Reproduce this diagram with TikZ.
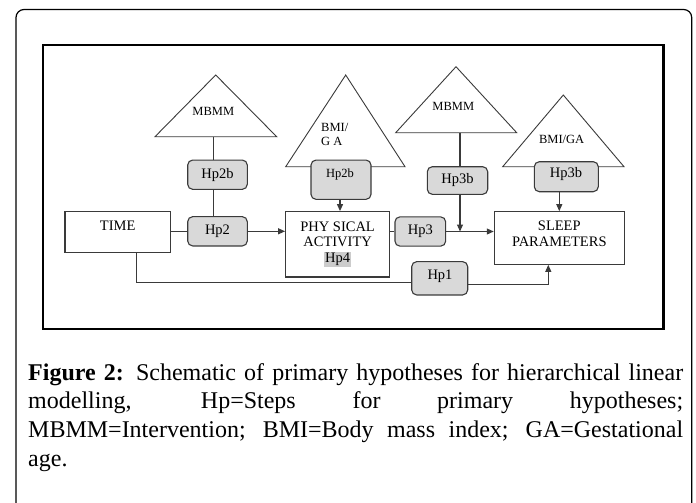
\documentclass[tikz,border=0pt]{standalone}
\usepackage{fontspec}
\setmainfont{Liberation Serif}
\usetikzlibrary{arrows.meta,calc}
\definecolor{boxgray}{HTML}{D9D9D9}
\definecolor{edge}{HTML}{3A3A3A}
\tikzset{
  hbox/.style={draw=edge, fill=boxgray, rounded corners=5pt, line width=1.1pt, inner sep=0pt, font=\fontsize{14.5}{16}\selectfont},
  wbox/.style={draw=edge, fill=white, line width=1.1pt, inner sep=0pt},
  tri/.style={draw=edge, line width=0.9pt, fill=white},
  lbl/.style={inner sep=0pt, font=\fontsize{14.5}{16}\selectfont},
  tlbl/.style={inner sep=0pt, font=\fontsize{12.5}{15}\selectfont},
  conn/.style={draw=edge, line width=1.1pt},
  arr/.style={conn, -{Triangle[length=7pt,width=6pt]}},
  capline/.style={inner sep=0pt, anchor=base west, font=\fontsize{24}{28}\selectfont}
}
\begin{document}
\begin{tikzpicture}[x=1pt,y=-1pt]
\useasboundingbox (0,0) rectangle (696,503);
% frames
\draw[line width=1.2pt, rounded corners=8pt] (16,520) -- (16,9.5) -- (691.7,9.5) -- (691.7,520);
\draw[line width=2.6pt] (43,45) rectangle (663.5,329);

% triangles
\draw[tri] (215.7,75) -- (276.7,136.7) -- (155,136.7) -- cycle;
\draw[tri] (345.7,75) -- (405,166.7) -- (285.7,166.7) -- cycle;
\draw[tri] (456,66.7) -- (516.7,132.7) -- (395.7,132.7) -- cycle;
\draw[tri] (563.3,95) -- (624,166.7) -- (502.7,166.7) -- cycle;
\node[tlbl] (t1l) at (213.3,111.7) {MBMM};
\node[tlbl, align=left, anchor=west] (t2l) at (321,134.5) {BMI/\\[-1pt]G A};
\node[tlbl] (t3l) at (453.3,106.7) {MBMM};
\node[tlbl] (t4l) at (561.7,139) {BMI/GA};
\coordinate (t1base) at (213.3,136.7);
\coordinate (t3base) at (460,132.7);

% white boxes
\node[wbox, minimum width=105.7pt, minimum height=40.6pt] (time) at (117.85,232) {};
\node[lbl] (timet) at (117.7,225.7) {TIME};
\node[wbox, minimum width=104pt, minimum height=65.3pt] (pa) at (337.6,244.3) {};
\node[lbl] (pa1) at (337.6,227) {PHY SICAL};
\node[lbl] (pa2) at (337.6,241.5) {ACTIVITY};
\node[lbl, fill=gray!40, inner sep=1pt] (pa3) at (337.6,259.5) {Hp4};
\node[wbox, minimum width=130pt, minimum height=52.6pt] (sleep) at (559.3,238) {};
\node[lbl] (sl1) at (559.3,226) {SLEEP};
\node[lbl] (sl2) at (559.3,241.7) {PARAMETERS};

% gray boxes
\node[hbox, minimum width=59.6pt, minimum height=29.3pt] (h2b1) at (217.5,174.7) {Hp2b};
\node[hbox, minimum width=59.6pt, minimum height=29.3pt] (h2) at (217.5,231.3) {Hp2};
\node[hbox, minimum width=60pt, minimum height=39.3pt] (h2b2) at (341,179.7) {};
\node[tlbl] (h2b2t) at (340,174.3) {Hp2b};
\node[hbox, minimum width=60.4pt, minimum height=27.6pt] (h3b1) at (457.5,180.5) {Hp3b};
\node[hbox, minimum width=50.7pt, minimum height=29.3pt] (h3) at (420.3,231.5) {Hp3};
\node[hbox, minimum width=64pt, minimum height=30pt] (h3b2) at (566.3,176.7) {};
\node[lbl] (h3b2t) at (566,174) {Hp3b};
\node[hbox, minimum width=56pt, minimum height=33.3pt] (h1) at (439.7,278.3) {};
\node[lbl] (h1t) at (440,276.7) {Hp1};

% connectors
\draw[conn] (t1base) -- (t1base |- h2b1.north);
\draw[conn] (t1base |- h2b1.south) -- (t1base |- h2.north);
\draw[conn] (time.east |- h2.west) -- (h2.west);
\draw[arr] (h2.east) -- (h2.east -| pa.west);
\draw[arr] (h2b2.south -| h2b2t) -- (h2b2t |- pa.north);
\draw[conn] (pa.east |- h3.west) -- (h3.west);
\draw[arr] (h3.east) -- (h3.east -| sleep.west);
\draw[conn] (t3base) -- (t3base |- h3b1.north);
\draw[arr] (t3base |- h3b1.south) -- (t3base |- h3.east);
\coordinate (a4) at (559.3,191.7);
\draw[arr] (a4) -- (a4 |- sleep.north);
\coordinate (tdrop) at (136.7,282.5);
\draw[conn] (tdrop |- time.south) -- (tdrop) -- (tdrop -| h1.west);
\coordinate (scorner) at (548.3,284.5);
\draw[arr] (scorner -| h1.east) -- (scorner) -- (scorner |- sleep.south);

% caption
\node[capline] (cap1) at (28,380) {\makebox[655pt][s]{\textbf{Figure 2:} Schematic of primary hypotheses for hierarchical linear}};
\node[capline] (cap2) at (28,408.7) {\makebox[655pt][s]{modelling, Hp=Steps for primary hypotheses;}};
\node[capline] (cap3) at (28,437.3) {\makebox[655pt][s]{MBMM=Intervention; BMI=Body mass index; GA=Gestational}};
\node[capline] (cap4) at (28,466) {age.};
\end{tikzpicture}
\end{document}
